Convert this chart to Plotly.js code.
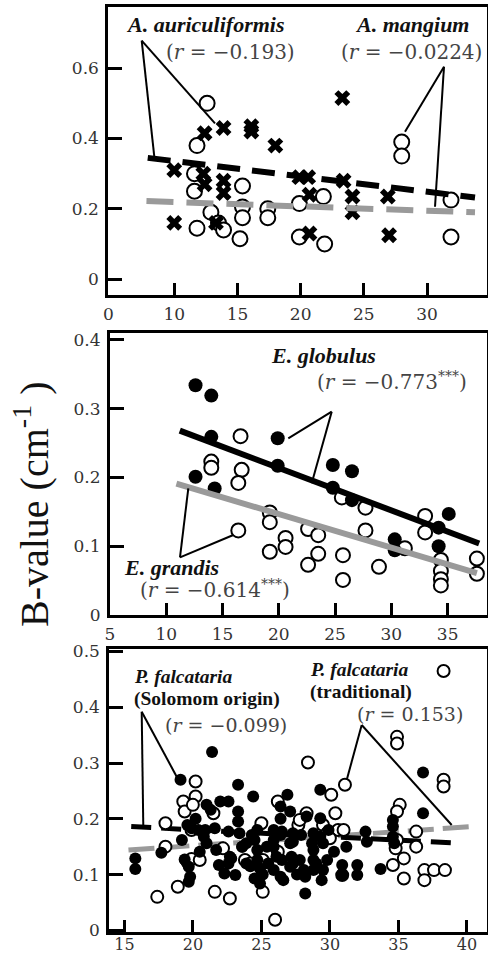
<!DOCTYPE html>
<html>
<head>
<meta charset="utf-8">
<script src="https://cdn.plot.ly/plotly-3.0.1.min.js"></script>
<style>html,body{margin:0;padding:0;background:#fff;}#chart{width:488px;height:955px;}</style>
</head>
<body>
<div id="chart"></div>
<script>
// ---------- Panel 1: Acacia ----------
const aurX = [10, 10, 12.4, 12.3, 12.4, 13.9, 13.9, 13.9, 13.3, 16.1, 16.1, 18.0, 19.9, 20.6, 20.7, 20.7, 23.3, 23.4, 24.1, 24.1, 26.9, 27.0];
const aurY = [0.31, 0.16, 0.415, 0.30, 0.27, 0.43, 0.28, 0.245, 0.16, 0.435, 0.42, 0.38, 0.29, 0.29, 0.24, 0.13, 0.515, 0.28, 0.235, 0.19, 0.235, 0.125];
const manX = [12.6, 11.8, 11.6, 11.6, 11.8, 12.9, 13.5, 13.9, 15.4, 15.4, 15.4, 15.2, 17.4, 17.4, 19.9, 19.9, 21.9, 21.8, 28.0, 28.0, 31.9, 31.9];
const manY = [0.50, 0.38, 0.30, 0.25, 0.145, 0.19, 0.16, 0.14, 0.265, 0.205, 0.175, 0.115, 0.20, 0.175, 0.215, 0.12, 0.10, 0.235, 0.39, 0.35, 0.225, 0.12];
const aurFitX = [7.9, 33.8], aurFitY = [0.345, 0.232];
const manFitX = [7.8, 33.8], manFitY = [0.222, 0.190];

// ---------- Panel 2: Eucalyptus ----------
const gloX = [12.6, 14.0, 14.0, 12.6, 14.3, 19.9, 19.9, 24.8, 26.5, 24.8, 26.5, 30.3, 30.3, 35.1, 34.2, 34.2];
const gloY = [0.334, 0.319, 0.259, 0.201, 0.184, 0.257, 0.217, 0.218, 0.209, 0.185, 0.167, 0.110, 0.094, 0.147, 0.127, 0.100];
const graX = [16.6, 14.0, 14.0, 16.7, 16.4, 16.4, 19.2, 19.2, 19.2, 20.6, 20.6, 22.6, 23.5, 23.5, 22.6, 25.7, 25.7, 25.6, 27.7, 27.7, 28.9, 31.2, 33.0, 33.0, 34.4, 34.4, 34.4, 34.4, 37.6, 37.6];
const graY = [0.260, 0.223, 0.214, 0.211, 0.192, 0.123, 0.149, 0.135, 0.092, 0.112, 0.099, 0.125, 0.116, 0.089, 0.073, 0.087, 0.051, 0.171, 0.156, 0.123, 0.070, 0.097, 0.144, 0.120, 0.080, 0.064, 0.052, 0.043, 0.082, 0.060];
const gloFitX = [11.2, 37.8], gloFitY = [0.268, 0.104];
const graFitX = [10.9, 37.6], graFitY = [0.191, 0.061];

// ---------- Panel 3: Paraserianthes ----------
const solX = [15.8, 15.8, 17.7, 19.1, 21.4, 19.6, 19.9, 20.2, 20.4, 20.5, 19.2, 19.7, 19.8, 19.7, 21.3, 22.0, 22.6, 23.3, 24.4, 23.3, 23.3, 21.9, 22.7, 23.1, 24.5, 26.4, 26.4, 25.9, 26.4, 26.6, 24.7, 24.7, 24.9, 25.4, 26.9, 27.1, 26.4, 27.1, 27.2, 28.2, 28.2, 28.3, 28.8, 29.0, 28.8, 29.4, 29.3, 29.3, 29.9, 30.3, 30.9, 30.9, 31.2, 32.0, 32.0, 32.6, 32.7, 33.7, 34.6, 34.6, 34.6, 34.7, 36.8, 36.8, 20.9, 21.6, 22.6, 23.4, 24.3, 25.9, 26.5, 27.3, 27.9, 28.7, 29.5, 22.8, 23.6, 21.0, 25.1, 27.6, 19.4, 24.2,
  23.9, 24.7, 25.5, 25.9, 26.1, 27.3, 27.8, 28.1, 28.8, 29.5, 29.8, 23.9, 22.6, 22.3, 24.9, 26.5, 27.1, 23.6, 24.5, 25.9, 27.3, 28.8, 29.3, 21.0, 21.7, 20.8];
const solY = [0.129, 0.110, 0.139, 0.270, 0.320, 0.189, 0.183, 0.200, 0.180, 0.141, 0.162, 0.114, 0.096, 0.087, 0.216, 0.231, 0.231, 0.261, 0.240, 0.213, 0.195, 0.117, 0.132, 0.099, 0.093, 0.222, 0.200, 0.162, 0.096, 0.090, 0.180, 0.126, 0.111, 0.150, 0.243, 0.213, 0.171, 0.156, 0.132, 0.096, 0.066, 0.204, 0.144, 0.120, 0.108, 0.090, 0.252, 0.201, 0.180, 0.141, 0.117, 0.099, 0.150, 0.117, 0.099, 0.177, 0.159, 0.110, 0.198, 0.186, 0.168, 0.156, 0.283, 0.210, 0.180, 0.183, 0.177, 0.174, 0.171, 0.180, 0.177, 0.174, 0.171, 0.156, 0.156, 0.129, 0.150, 0.225, 0.100, 0.100, 0.127, 0.115,
  0.156, 0.144, 0.120, 0.108, 0.132, 0.120, 0.126, 0.108, 0.126, 0.108, 0.126, 0.120, 0.120, 0.102, 0.084, 0.126, 0.114, 0.150, 0.162, 0.150, 0.159, 0.174, 0.168, 0.156, 0.144, 0.168];
const traX = [38.3, 28.4, 31.1, 34.9, 34.9, 38.3, 38.3, 20.2, 20.2, 19.3, 19.4, 20.0, 18.0, 18.0, 19.6, 19.9, 18.9, 17.4, 21.6, 22.7, 26.0, 25.1, 25.1, 25.0, 26.2, 23.8, 24.2, 26.2, 21.5, 27.7, 28.3, 29.5, 30.4, 30.1, 30.6, 30.9, 35.1, 34.9, 34.9, 34.8, 35.4, 34.6, 35.4, 36.3, 36.3, 36.9, 36.9, 37.6, 38.4, 31.0, 22.2, 27.8, 29.8, 30.0, 19.9, 20.5];
const traY = [0.465, 0.301, 0.261, 0.347, 0.335, 0.270, 0.258, 0.267, 0.240, 0.231, 0.213, 0.225, 0.192, 0.150, 0.123, 0.128, 0.078, 0.060, 0.069, 0.057, 0.019, 0.069, 0.126, 0.192, 0.231, 0.126, 0.120, 0.141, 0.210, 0.189, 0.210, 0.189, 0.210, 0.243, 0.180, 0.099, 0.225, 0.213, 0.162, 0.147, 0.129, 0.117, 0.093, 0.177, 0.150, 0.108, 0.090, 0.108, 0.108, 0.180, 0.147, 0.198, 0.174, 0.165, 0.180, 0.126];
const solFitX = [15.5, 39.5], solFitY = [0.186, 0.156];
const traFitX = [15.3, 40.4], traFitY = [0.144, 0.186];

// ---------- tick labels ----------
const x1TickVals = [4.78, 10, 15, 20, 25, 30], x1TickText = ['0', '10', '15', '20', '25', '30'];
const y1TickVals = [0, 0.2, 0.4, 0.6], y1TickText = ['0', '0.2', '0.4', '0.6'];
const x2TickVals = [5, 10, 15, 20, 25, 30, 35], x2TickText = ['5', '10', '15', '20', '25', '30', '35'];
const y2TickVals = [0, 0.1, 0.2, 0.3, 0.4], y2TickText = ['0', '0.1', '0.2', '0.3', '0.4'];
const x3TickVals = [15, 20, 25, 30, 35, 40], x3TickText = ['15', '20', '25', '30', '35', '40'];
const y3TickVals = [0, 0.1, 0.2, 0.3, 0.4, 0.5], y3TickText = ['0', '0.1', '0.2', '0.3', '0.4', '0.5'];

const W = 488, H = 955;
const GRAY = '#9a9a9a';
const openM = (s) => ({symbol: 'circle', size: s, color: 'white', line: {color: 'black', width: 2}});
const fillM = (s) => ({symbol: 'circle', size: s, color: 'black', line: {color: 'black', width: 0}});

const traces = [
  {x: manX, y: manY, xaxis: 'x', yaxis: 'y', mode: 'markers', marker: openM(15)},
  {x: aurX, y: aurY, xaxis: 'x', yaxis: 'y', mode: 'markers', marker: {symbol: 'x', size: 14, color: 'black', line: {width: 0}}},
  {x: aurFitX, y: aurFitY, xaxis: 'x', yaxis: 'y', mode: 'lines', line: {color: 'black', width: 6, dash: '23px,12px'}},
  {x: manFitX, y: manFitY, xaxis: 'x', yaxis: 'y', mode: 'lines', line: {color: GRAY, width: 6, dash: '27px,13px'}},

  {x: graX, y: graY, xaxis: 'x2', yaxis: 'y2', mode: 'markers', marker: openM(14)},
  {x: gloX, y: gloY, xaxis: 'x2', yaxis: 'y2', mode: 'markers', marker: fillM(14)},
  {x: gloFitX, y: gloFitY, xaxis: 'x2', yaxis: 'y2', mode: 'lines', line: {color: 'black', width: 6}},
  {x: graFitX, y: graFitY, xaxis: 'x2', yaxis: 'y2', mode: 'lines', line: {color: GRAY, width: 6}},

  {x: traFitX, y: traFitY, xaxis: 'x3', yaxis: 'y3', mode: 'lines', line: {color: GRAY, width: 5, dash: '26px,9px'}},
  {x: solFitX, y: solFitY, xaxis: 'x3', yaxis: 'y3', mode: 'lines', line: {color: 'black', width: 5, dash: '20px,10px'}},
  {x: traX, y: traY, xaxis: 'x3', yaxis: 'y3', mode: 'markers', marker: openM(12)},
  {x: solX, y: solY, xaxis: 'x3', yaxis: 'y3', mode: 'markers', marker: fillM(12)}
];

const tickFont = {family: 'DejaVu Serif', size: 17, color: '#333'};
function xax(domainL, range, tv, tt, anchor, font, standoff) {
  return {domain: [domainL, 0.998], range: range, anchor: anchor, tickmode: 'array', tickvals: tv, ticktext: tt,
    ticks: 'inside', ticklen: 12, tickwidth: 3, tickcolor: 'black', showline: true, linewidth: 3, linecolor: 'black',
    mirror: true, showgrid: false, zeroline: false, tickfont: font || tickFont, ticklabelstandoff: standoff === undefined ? 2 : standoff};
}
function yax(dom, range, tv, tt, anchor) {
  return {domain: dom, range: range, anchor: anchor, tickmode: 'array', tickvals: tv, ticktext: tt,
    ticks: 'inside', ticklen: 14, tickwidth: 3, tickcolor: 'black', showline: true, linewidth: 3, linecolor: 'black',
    mirror: true, showgrid: false, zeroline: false, tickfont: tickFont, ticklabelstandoff: 3};
}
const P = (px, py) => [px / W, 1 - py / H];

function lbl(text, px, py, font) {
  const p = P(px, py);
  return {text: text, x: p[0], y: p[1], xref: 'paper', yref: 'paper', xanchor: 'center', yanchor: 'middle', showarrow: false, font: font};
}
const nameF = {family: 'Liberation Serif', size: 22, color: '#111'};
const nameF3 = {family: 'Liberation Serif', size: 19.5, color: '#111'};
const rF = {family: 'DejaVu Serif', size: 20, color: '#444'};
const rF3 = {family: 'DejaVu Serif', size: 19, color: '#444'};

const annotations = [
  lbl('<b><i>A. auriculiformis</i></b>', 205, 24, nameF),
  lbl('(<i>r</i> = −0.193)', 230, 52, rF),
  lbl('<b><i>A. mangium</i></b>', 412, 24, nameF),
  lbl('(<i>r</i> = −0.0224)', 411, 52, rF),
  lbl('<b><i>E. globulus</i></b>', 323, 355, nameF),
  lbl('(<i>r</i> = −0.773<sup>***</sup>)', 392, 381, rF),
  lbl('<b><i>E. grandis</i></b>', 171, 567, nameF),
  lbl('(<i>r</i> = −0.614<sup>***</sup>)', 215, 589, rF),
  lbl('<b><i>P. falcataria</i></b>', 183, 676, nameF3),
  lbl('<b>(Solomom origin)</b>', 207, 699, nameF3),
  lbl('(<i>r</i> = −0.099)', 226, 725, rF3),
  lbl('<b><i>P. falcataria</i></b>', 359, 669, nameF3),
  lbl('<b>(traditional)</b>', 361, 692, nameF3),
  lbl('(<i>r</i> = 0.153)', 410, 714, rF3),
  Object.assign(lbl('B-value (cm<sup>-1</sup> )', 32, 505, {family: 'Liberation Serif', size: 40, color: '#111'}), {textangle: -90})
];

const leaders = [
  [141.7, 40.7, 154.3, 156.7], [141.7, 40.7, 215, 123.3],
  [444, 66.7, 405, 131.7], [444, 66.7, 435, 206.7],
  [331.7, 411.7, 288.3, 438.3], [331.7, 411.7, 311.7, 483.3],
  [180, 557.3, 188.3, 488.3], [180, 557.3, 233.3, 535],
  [141.7, 711.7, 143.3, 826.7], [141.7, 711.7, 176.7, 776.7],
  [361.7, 725, 346.7, 780], [361.7, 725, 451.7, 825]
];
const shapes = leaders.map(l => {
  const a = P(l[0], l[1]), b = P(l[2], l[3]);
  return {type: 'line', xref: 'paper', yref: 'paper', x0: a[0], y0: a[1], x1: b[0], y1: b[1], line: {color: 'black', width: 2}};
});

const layout = {
  width: W, height: H, margin: {l: 0, r: 0, t: 0, b: 0},
  paper_bgcolor: 'white', plot_bgcolor: 'white', showlegend: false,
  xaxis: xax(108.3 / W, [4.78, 34.75], x1TickVals, x1TickText, 'y'),
  yaxis: yax([1 - 295 / H, 1 - 7 / H], [-0.045, 0.774], y1TickVals, y1TickText, 'x'),
  xaxis2: xax(110 / W, [5, 38.5], x2TickVals, x2TickText, 'y2'),
  yaxis2: yax([1 - 615 / H, 1 - 333 / H], [0, 0.41], y2TickVals, y2TickText, 'x2'),
  xaxis3: xax(109.3 / W, [13.9, 41.47], x3TickVals, x3TickText, 'y3', {family: 'DejaVu Serif', size: 16, color: '#333'}, -4),
  yaxis3: yax([1 - 931.7 / H, 1 - 649.3 / H], [-0.0025, 0.504], y3TickVals, y3TickText, 'x3'),
  annotations: annotations,
  shapes: shapes
};

Plotly.newPlot('chart', traces, layout, {staticPlot: true, displayModeBar: false});
</script>
</body>
</html>
